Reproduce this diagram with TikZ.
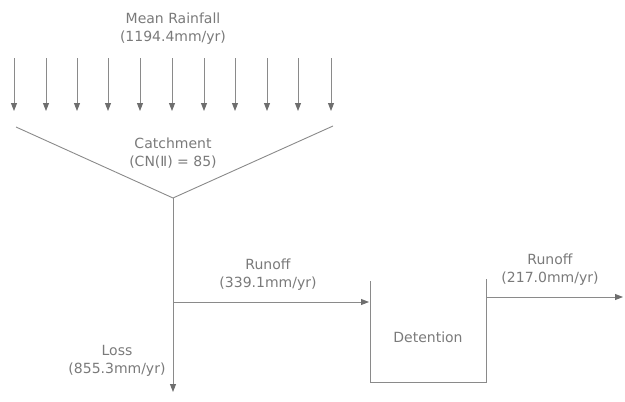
\documentclass[tikz,border=0pt]{standalone}
\usepackage{fontspec}
\setmainfont{DejaVu Sans}
\usetikzlibrary{arrows.meta}
\definecolor{ln}{HTML}{8A8A8A}
\definecolor{hd}{HTML}{6E6E6E}
\definecolor{tx}{HTML}{7A7A7A}
\tikzset{
  flow/.style={draw=ln, line width=0.9pt},
  arr/.style={flow, -{Triangle[length=8pt,width=6pt,color=hd]}},
  lbl/.style={text=tx, font=\fontsize{14}{18}\selectfont, align=center, inner sep=0pt}
}
\begin{document}
\begin{tikzpicture}[x=1pt,y=-1pt]
\useasboundingbox (0,0) rectangle (625,402);
% rainfall
\node[lbl] (rain) at (173,29) {Mean Rainfall\\(1194.4mm/yr)};
\foreach \i/\x in {1/14,2/46,3/77,4/108,5/140,6/172,7/204,8/235,9/267,10/298,11/331} {
  \coordinate (t\i) at (\x,58);
  \coordinate (b\i) at (\x,111);
  \draw[arr] (t\i) -- (b\i);
}
% catchment
\coordinate (cl) at (16,127);
\coordinate (cr) at (333,126);
\coordinate (cj) at (173,198);
\draw[flow] (cl) -- (cj) -- (cr);
\node[lbl] (catch) at (173,153) {Catchment\\(CN(Ⅱ) = 85)};
% loss
\coordinate (lossend) at (173,392);
\draw[arr] (cj) -- (lossend);
\node[lbl] (loss) at (117,361) {Loss\\(855.3mm/yr)};
% runoff 1
\coordinate (r1s) at (173,302);
\coordinate (r1e) at (369,302);
\draw[arr] (r1s) -- (r1e);
\node[lbl] (run1) at (268,275) {Runoff\\(339.1mm/yr)};
% detention
\coordinate (dtl) at (370,281);
\coordinate (dbl) at (370,382);
\coordinate (dbr) at (486,382);
\coordinate (dtr) at (486,279);
\draw[flow] (dtl) -- (dbl) -- (dbr) -- (dtr);
\node[lbl] (det) at (428,337) {Detention};
% runoff 2
\coordinate (r2s) at (486,297);
\coordinate (r2e) at (623,297);
\draw[arr] (r2s) -- (r2e);
\node[lbl] (run2) at (550,270) {Runoff\\(217.0mm/yr)};
\end{tikzpicture}
\end{document}
